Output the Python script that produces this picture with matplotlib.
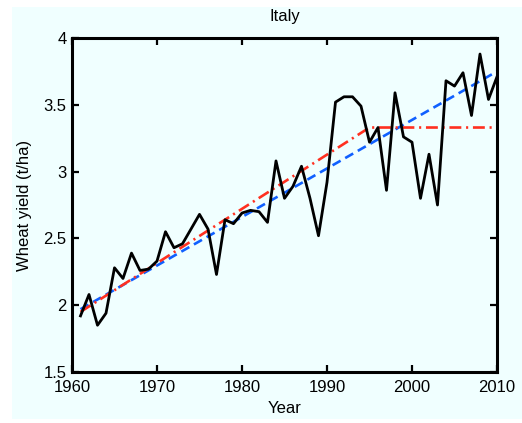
import matplotlib
matplotlib.use("Agg")
import matplotlib.pyplot as plt
from matplotlib.patches import Rectangle

years = list(range(1961, 2011))
yield_tha = [1.92, 2.08, 1.85, 1.94, 2.28, 2.20, 2.39, 2.26, 2.27, 2.33,
             2.55, 2.43, 2.46, 2.57, 2.68, 2.57, 2.23, 2.64, 2.61, 2.69,
             2.71, 2.70, 2.62, 3.08, 2.80, 2.89, 3.04, 2.80, 2.52, 2.92,
             3.52, 3.56, 3.56, 3.49, 3.22, 3.33, 2.86, 3.59, 3.26, 3.22,
             2.80, 3.13, 2.75, 3.68, 3.64, 3.74, 3.42, 3.88, 3.54, 3.71]

linear_years = [1961, 2010]
linear_vals = [1.97, 3.75]

piece_years = [1961, 1995, 2010]
piece_vals = [1.95, 3.33, 3.33]

xticks = [1960, 1970, 1980, 1990, 2000, 2010]
yticks = [1.5, 2, 2.5, 3, 3.5, 4]
ytick_labels = ["1.5", "2", "2.5", "3", "3.5", "4"]

plt.rcParams['font.family'] = ['Liberation Sans', 'DejaVu Sans']

W, H = 522, 423
fig = plt.figure(figsize=(W / 100, H / 100), dpi=100, facecolor='white')
bg = '#F0FFFF'
fig.patches.append(Rectangle((12 / W, (H - 419) / H), 1 - 12 / W, (419 - 7) / H,
                             transform=fig.transFigure, facecolor=bg,
                             edgecolor='none', zorder=-10))

ax = fig.add_axes([72 / W, 1 - 372 / H, (497 - 72) / W, (372 - 38) / H])
ax.set_facecolor(bg)

ax.plot(years, yield_tha, color='black', lw=2.0, zorder=3)
ax.plot(linear_years, linear_vals, color='#1060FF', lw=1.9, ls=(0, (3.5, 2)), zorder=2)
ax.plot(piece_years, piece_vals, color='#FF3020', lw=1.9, ls=(0, (4.5, 1.8, 0.8, 1.8)), zorder=2)

ax.set_xlim(1960, 2010)
ax.set_ylim(1.5, 4)
ax.set_xticks(xticks)
ax.set_yticks(yticks)
ax.set_yticklabels(ytick_labels)
ax.tick_params(direction='in', top=True, right=True, length=5, width=1.6,
               labelsize=12, colors='black')
ax.tick_params(axis='x', pad=6)
ax.tick_params(axis='y', pad=4)
for s in ax.spines.values():
    s.set_linewidth(2.2)

ax.set_title('Italy', fontsize=12, pad=12)
ax.set_xlabel('Year', fontsize=12, labelpad=4)
ax.set_ylabel('Wheat yield (t/ha)', fontsize=12, labelpad=8)

fig.savefig('out.png', dpi=100, facecolor=fig.get_facecolor())
